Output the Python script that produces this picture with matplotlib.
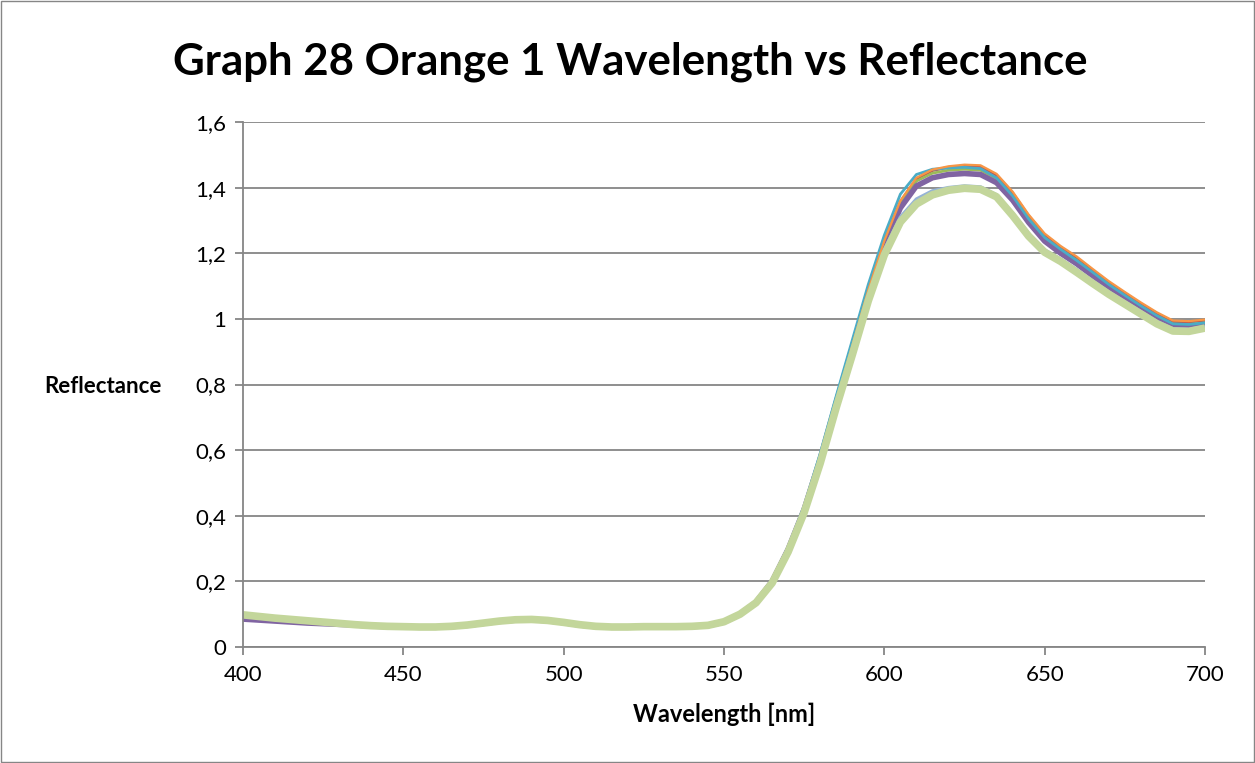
#!/usr/bin/env python3
"""
Graph 28 - Orange 1 reflectance spectra (Excel style line chart)
"""

import matplotlib
matplotlib.use('Agg')
import matplotlib.pyplot as plt
from matplotlib.patches import Rectangle
from matplotlib.ticker import FuncFormatter, MultipleLocator

# Wavelength grid, 5 nm steps from 400 to 700
WAVELENGTH = list(range(400, 701, 5))

# 400-550 nm: all measurements practically coincide
LOW_COMMON = [0.098, 0.093, 0.088, 0.084, 0.080, 0.076, 0.072, 0.068, 0.065, 0.063,
              0.062, 0.061, 0.061, 0.063, 0.067, 0.073, 0.079, 0.083, 0.084, 0.081,
              0.075, 0.068, 0.063, 0.061, 0.061, 0.062, 0.062, 0.062, 0.063, 0.066,
              0.077]
LOW_PURPLE = [0.085, 0.082, 0.079, 0.076, 0.073, 0.071, 0.069, 0.067, 0.064, 0.062,
              0.061, 0.060, 0.060, 0.062, 0.066, 0.072, 0.078, 0.082, 0.083, 0.080,
              0.074, 0.067, 0.062, 0.060, 0.060, 0.061, 0.061, 0.061, 0.062, 0.065,
              0.076]

# 555-700 nm per measurement
HIGH_BLUE = [0.098, 0.130, 0.188, 0.280, 0.398, 0.548, 0.718, 0.880, 1.045, 1.188,
             1.290, 1.348, 1.378, 1.393, 1.400, 1.398, 1.375, 1.318, 1.256, 1.206,
             1.178, 1.145, 1.111, 1.078, 1.048, 1.018, 0.988, 0.966, 0.965, 0.974]
HIGH_RED = [0.100, 0.137, 0.200, 0.298, 0.420, 0.575, 0.748, 0.918, 1.088, 1.236,
            1.357, 1.427, 1.452, 1.462, 1.466, 1.464, 1.438, 1.384, 1.314, 1.256,
            1.218, 1.186, 1.148, 1.111, 1.078, 1.046, 1.016, 0.991, 0.990, 0.995]
HIGH_GREEN = [0.100, 0.137, 0.200, 0.298, 0.420, 0.575, 0.748, 0.916, 1.085, 1.232,
              1.350, 1.420, 1.444, 1.453, 1.456, 1.453, 1.428, 1.374, 1.305, 1.247,
              1.210, 1.178, 1.140, 1.104, 1.070, 1.038, 1.008, 0.984, 0.983, 0.988]
HIGH_PURPLE = [0.100, 0.137, 0.200, 0.298, 0.420, 0.573, 0.745, 0.912, 1.080, 1.225,
               1.338, 1.405, 1.430, 1.440, 1.443, 1.440, 1.415, 1.362, 1.294, 1.237,
               1.200, 1.168, 1.131, 1.095, 1.062, 1.030, 1.000, 0.977, 0.976, 0.981]
HIGH_TEAL = [0.102, 0.140, 0.205, 0.305, 0.430, 0.590, 0.765, 0.935, 1.105, 1.255,
             1.380, 1.440, 1.456, 1.460, 1.462, 1.458, 1.430, 1.375, 1.305, 1.248,
             1.212, 1.178, 1.142, 1.105, 1.072, 1.040, 1.010, 0.985, 0.983, 0.988]
HIGH_ORANGE = [0.100, 0.137, 0.200, 0.298, 0.420, 0.575, 0.748, 0.918, 1.088, 1.238,
               1.360, 1.430, 1.455, 1.465, 1.470, 1.468, 1.442, 1.388, 1.318, 1.260,
               1.222, 1.190, 1.152, 1.115, 1.082, 1.050, 1.020, 0.995, 0.993, 0.998]
HIGH_LIGHTBLUE = [0.100, 0.137, 0.200, 0.298, 0.420, 0.572, 0.742, 0.905, 1.070, 1.210,
                  1.310, 1.365, 1.390, 1.400, 1.405, 1.402, 1.378, 1.322, 1.260, 1.210,
                  1.182, 1.150, 1.115, 1.082, 1.052, 1.022, 0.992, 0.970, 0.968, 0.976]
HIGH_LIGHTGREEN = [0.100, 0.135, 0.195, 0.290, 0.410, 0.560, 0.730, 0.890, 1.055, 1.195,
                   1.295, 1.350, 1.378, 1.392, 1.398, 1.395, 1.372, 1.315, 1.252, 1.203,
                   1.175, 1.142, 1.108, 1.075, 1.045, 1.015, 0.985, 0.963, 0.962, 0.972]

# (values, colour, line width) in drawing order
SERIES = [
    (LOW_COMMON + HIGH_BLUE, '#4F81BD', 1.6),
    (LOW_COMMON + HIGH_RED, '#C0504D', 2.0),
    (LOW_COMMON + HIGH_GREEN, '#9BBB59', 2.0),
    (LOW_PURPLE + HIGH_PURPLE, '#8064A2', 4.0),
    (LOW_COMMON + HIGH_TEAL, '#4BACC6', 2.0),
    (LOW_COMMON + HIGH_ORANGE, '#F79646', 1.6),
    (LOW_COMMON + HIGH_LIGHTBLUE, '#95B3D7', 2.5),
    (LOW_COMMON + HIGH_LIGHTGREEN, '#C3D69B', 5.5),
]

TITLE = 'Graph 28 Orange 1 Wavelength vs Reflectance'
X_LABEL = 'Wavelength [nm]'
Y_LABEL = 'Reflectance'

FONT = ['Lato', 'DejaVu Sans']
GRID_COLOR = '#868686'

plt.rcParams['font.family'] = FONT

fig = plt.figure(figsize=(12.55, 7.63), dpi=100)
ax = fig.add_axes([243 / 1255, 1 - 647 / 763, (1205 - 243) / 1255, (647 - 122) / 763])

for values, color, lw in SERIES:
    ax.plot(WAVELENGTH, values, color=color, linewidth=lw,
            solid_capstyle='butt', solid_joinstyle='round')

ax.set_xlim(400, 700)
ax.set_ylim(0, 1.6)
ax.xaxis.set_major_locator(MultipleLocator(50))
ax.yaxis.set_major_locator(MultipleLocator(0.2))
ax.yaxis.set_major_formatter(FuncFormatter(lambda v, pos: f'{v:.1f}'.rstrip('0').rstrip('.').replace('.', ',')))

ax.grid(True, axis='y', color=GRID_COLOR, linewidth=1.3)
ax.set_axisbelow(True)
for side in ['top', 'right']:
    ax.spines[side].set_visible(False)
for side in ['left', 'bottom']:
    ax.spines[side].set_color(GRID_COLOR)
    ax.spines[side].set_linewidth(1.3)
ax.tick_params(axis='both', colors=GRID_COLOR, labelcolor='black', labelsize=16,
               direction='out', length=6, width=1.3)
ax.tick_params(axis='x', pad=7)
ax.tick_params(axis='y', pad=6)

fig.text(630 / 1255, 1 - 75 / 763, TITLE, ha='center', va='baseline',
         fontsize=31.5, fontweight='bold')
fig.text(724 / 1255, 1 - 722 / 763, X_LABEL, ha='center', va='baseline',
         fontsize=17, fontweight='bold')
fig.text(162 / 1255, 1 - 393 / 763, Y_LABEL, ha='right', va='baseline',
         fontsize=16, fontweight='bold')

# chart border
fig.patches.append(Rectangle((0.0008, 0.0013), 0.9984, 0.9974, transform=fig.transFigure,
                             fill=False, edgecolor=GRID_COLOR, linewidth=1.0))

plt.savefig('out.png', dpi=100)
